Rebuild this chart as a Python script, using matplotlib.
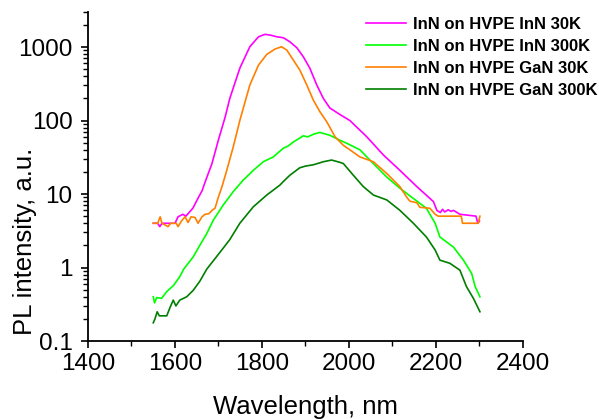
import numpy as np
import matplotlib
matplotlib.use("Agg")
import matplotlib.pyplot as plt
from matplotlib.ticker import LogLocator, NullFormatter, FixedLocator, FuncFormatter

plt.rcParams['font.family'] = ['Liberation Sans', 'DejaVu Sans']

# ---- data ----
inn30_wl = [1550, 1560, 1565, 1570, 1580, 1600, 1607, 1618, 1625, 1641, 1653, 1662, 1670, 1685, 1700,
            1715, 1726, 1749, 1772, 1792, 1807, 1820, 1834, 1849, 1864, 1880, 1895, 1910, 1926, 1941,
            1956, 1979, 2002, 2041, 2079, 2117, 2156, 2194, 2202, 2210, 2215, 2220, 2228, 2235, 2240,
            2255, 2292, 2296, 2300]
inn30_val = [4.0, 4.0, 3.6, 4.0, 4.0, 4.0, 4.9, 5.3, 5.0, 6.4, 8.8, 11, 15, 26, 55,
             110, 200, 515, 1010, 1380, 1490, 1450, 1380, 1340, 1180, 980, 738, 515, 304, 200,
             148, 121, 100, 60, 34, 21, 12.6, 7.9, 6.0, 5.6, 6.2, 5.7, 6.1, 5.8, 6.0,
             5.3, 5.0, 4.0, 4.3]

inn300_wl = [1550, 1553, 1558, 1569, 1581, 1596, 1611, 1620, 1642, 1657, 1673, 1688, 1711, 1734, 1757,
             1780, 1803, 1826, 1849, 1860, 1872, 1895, 1905, 1918, 1933, 1956, 1979, 1995, 2025, 2048,
             2056, 2087, 2117, 2148, 2178, 2198, 2209, 2240, 2263, 2282, 2290, 2301]
inn300_val = [0.40, 0.33, 0.39, 0.38, 0.47, 0.565, 0.75, 0.95, 1.4, 2.0, 2.9, 4.4, 7.1, 10.8, 15.5,
              21, 27.5, 32, 42, 45, 51, 62, 60, 65, 69, 63, 54, 49, 40, 29,
              26, 17, 12, 8.7, 6.4, 4.0, 2.6, 1.9, 1.26, 0.83, 0.55, 0.40]

gan30_wl = [1550, 1560, 1566, 1570, 1584, 1590, 1603, 1607, 1615, 1623, 1630, 1637, 1646, 1653, 1662,
            1669, 1678, 1685, 1692, 1699, 1708, 1719, 1734, 1749, 1772, 1792, 1811, 1830, 1845, 1857,
            1872, 1887, 1903, 1918, 1933, 1949, 1968, 1987, 2002, 2025, 2056, 2087, 2117, 2133, 2140,
            2156, 2163, 2186, 2198, 2205, 2258, 2261, 2297, 2301]
gan30_val = [4.0, 4.0, 4.9, 4.0, 3.6, 4.0, 4.0, 3.6, 4.3, 4.9, 4.1, 4.9, 4.8, 4.0, 4.9,
             5.3, 5.4, 6.0, 6.4, 8.8, 12.6, 21, 44, 100, 304, 569, 795, 940, 1010, 910,
             665, 486, 304, 190, 132, 96, 60, 46, 40, 32, 27.5, 19, 12.6, 9.0, 8.0,
             7.6, 6.6, 6.4, 5.3, 5.0, 5.0, 4.0, 4.0, 5.0]

gan300_wl = [1550, 1554, 1559, 1564, 1581, 1589, 1596, 1602, 1611, 1627, 1642, 1657, 1673, 1703, 1726,
             1749, 1780, 1811, 1841, 1850, 1864, 1887, 1900, 1918, 1941, 1960, 1979, 1987, 2010, 2033,
             2056, 2087, 2117, 2148, 2178, 2198, 2209, 2232, 2255, 2270, 2286, 2301]
gan300_val = [0.177, 0.20, 0.25, 0.22, 0.22, 0.29, 0.36, 0.30, 0.36, 0.40, 0.49, 0.65, 0.95, 1.6, 2.4,
              4.0, 6.7, 9.7, 13.2, 15, 18, 22.8, 24, 25, 27.5, 29, 27, 26, 18, 12.6,
              9.7, 8.3, 6.0, 4.0, 2.6, 1.73, 1.26, 1.14, 0.92, 0.55, 0.38, 0.25]

labels = ["InN on HVPE InN 30K", "InN on HVPE InN 300K",
          "InN on HVPE GaN 30K", "InN on HVPE GaN 300K"]
colors = ["#FF00FF", "#00FF00", "#FF8000", "#007F00"]

x_ticks = [1400, 1600, 1800, 2000, 2200, 2400]
y_ticks = [0.1, 1, 10, 100, 1000]
y_tick_labels = ["0.1", "1", "10", "100", "1000"]

# ---- figure ----
fig = plt.figure(figsize=(5.99, 4.19), dpi=100)
ax = fig.add_axes([88/599, 1 - 341/419, (523 - 88)/599, (341 - 12)/419])

series = [(inn30_wl, inn30_val), (inn300_wl, inn300_val),
          (gan30_wl, gan30_val), (gan300_wl, gan300_val)]
for (wl, val), lab, col in zip(series, labels, colors):
    ax.plot(wl, val, color=col, lw=1.2, label=lab)

ax.set_yscale('log')
ax.set_xlim(1400, 2400)
ax.set_ylim(0.1, 3000)

ax.xaxis.set_major_locator(FixedLocator(x_ticks))
ax.xaxis.set_minor_locator(FixedLocator([1500, 1700, 1900, 2100, 2300]))
ax.yaxis.set_major_locator(FixedLocator(y_ticks))
ax.yaxis.set_major_formatter(FuncFormatter(lambda v, p: y_tick_labels[y_ticks.index(v)] if v in y_ticks else ""))
ax.yaxis.set_minor_locator(LogLocator(base=10, subs=np.arange(2, 10), numticks=20))
ax.yaxis.set_minor_formatter(NullFormatter())

for s in ['top', 'right']:
    ax.spines[s].set_visible(False)
for s in ['left', 'bottom']:
    ax.spines[s].set_linewidth(1.3)

ax.tick_params(axis='both', which='major', direction='out', length=5, width=1.2, labelsize=17.5)
ax.tick_params(axis='x', which='major', pad=3.5)
ax.tick_params(axis='y', which='major', pad=6)
ax.tick_params(axis='both', which='minor', direction='out', length=3.5, width=1.0)

ax.set_xlabel("Wavelength, nm", fontsize=18.5)
ax.xaxis.set_label_coords(0.5, (341 - 414) / 329)
ax.xaxis.label.set_va('baseline')
ax.set_ylabel("PL intensity, a.u.", fontsize=18.5)
ax.yaxis.set_label_coords((25 - 88) / 435, (341 - 241) / 329)
ax.yaxis.label.set_va('center')

leg = ax.legend(loc='upper left', bbox_to_anchor=(366/599, 1 - 17/419), bbox_transform=fig.transFigure,
                frameon=False, prop={'weight': 'bold', 'size': 12}, handlelength=2.4,
                handletextpad=0.4, labelspacing=0.42, borderpad=0, borderaxespad=0)

fig.savefig("out.png", dpi=100)
